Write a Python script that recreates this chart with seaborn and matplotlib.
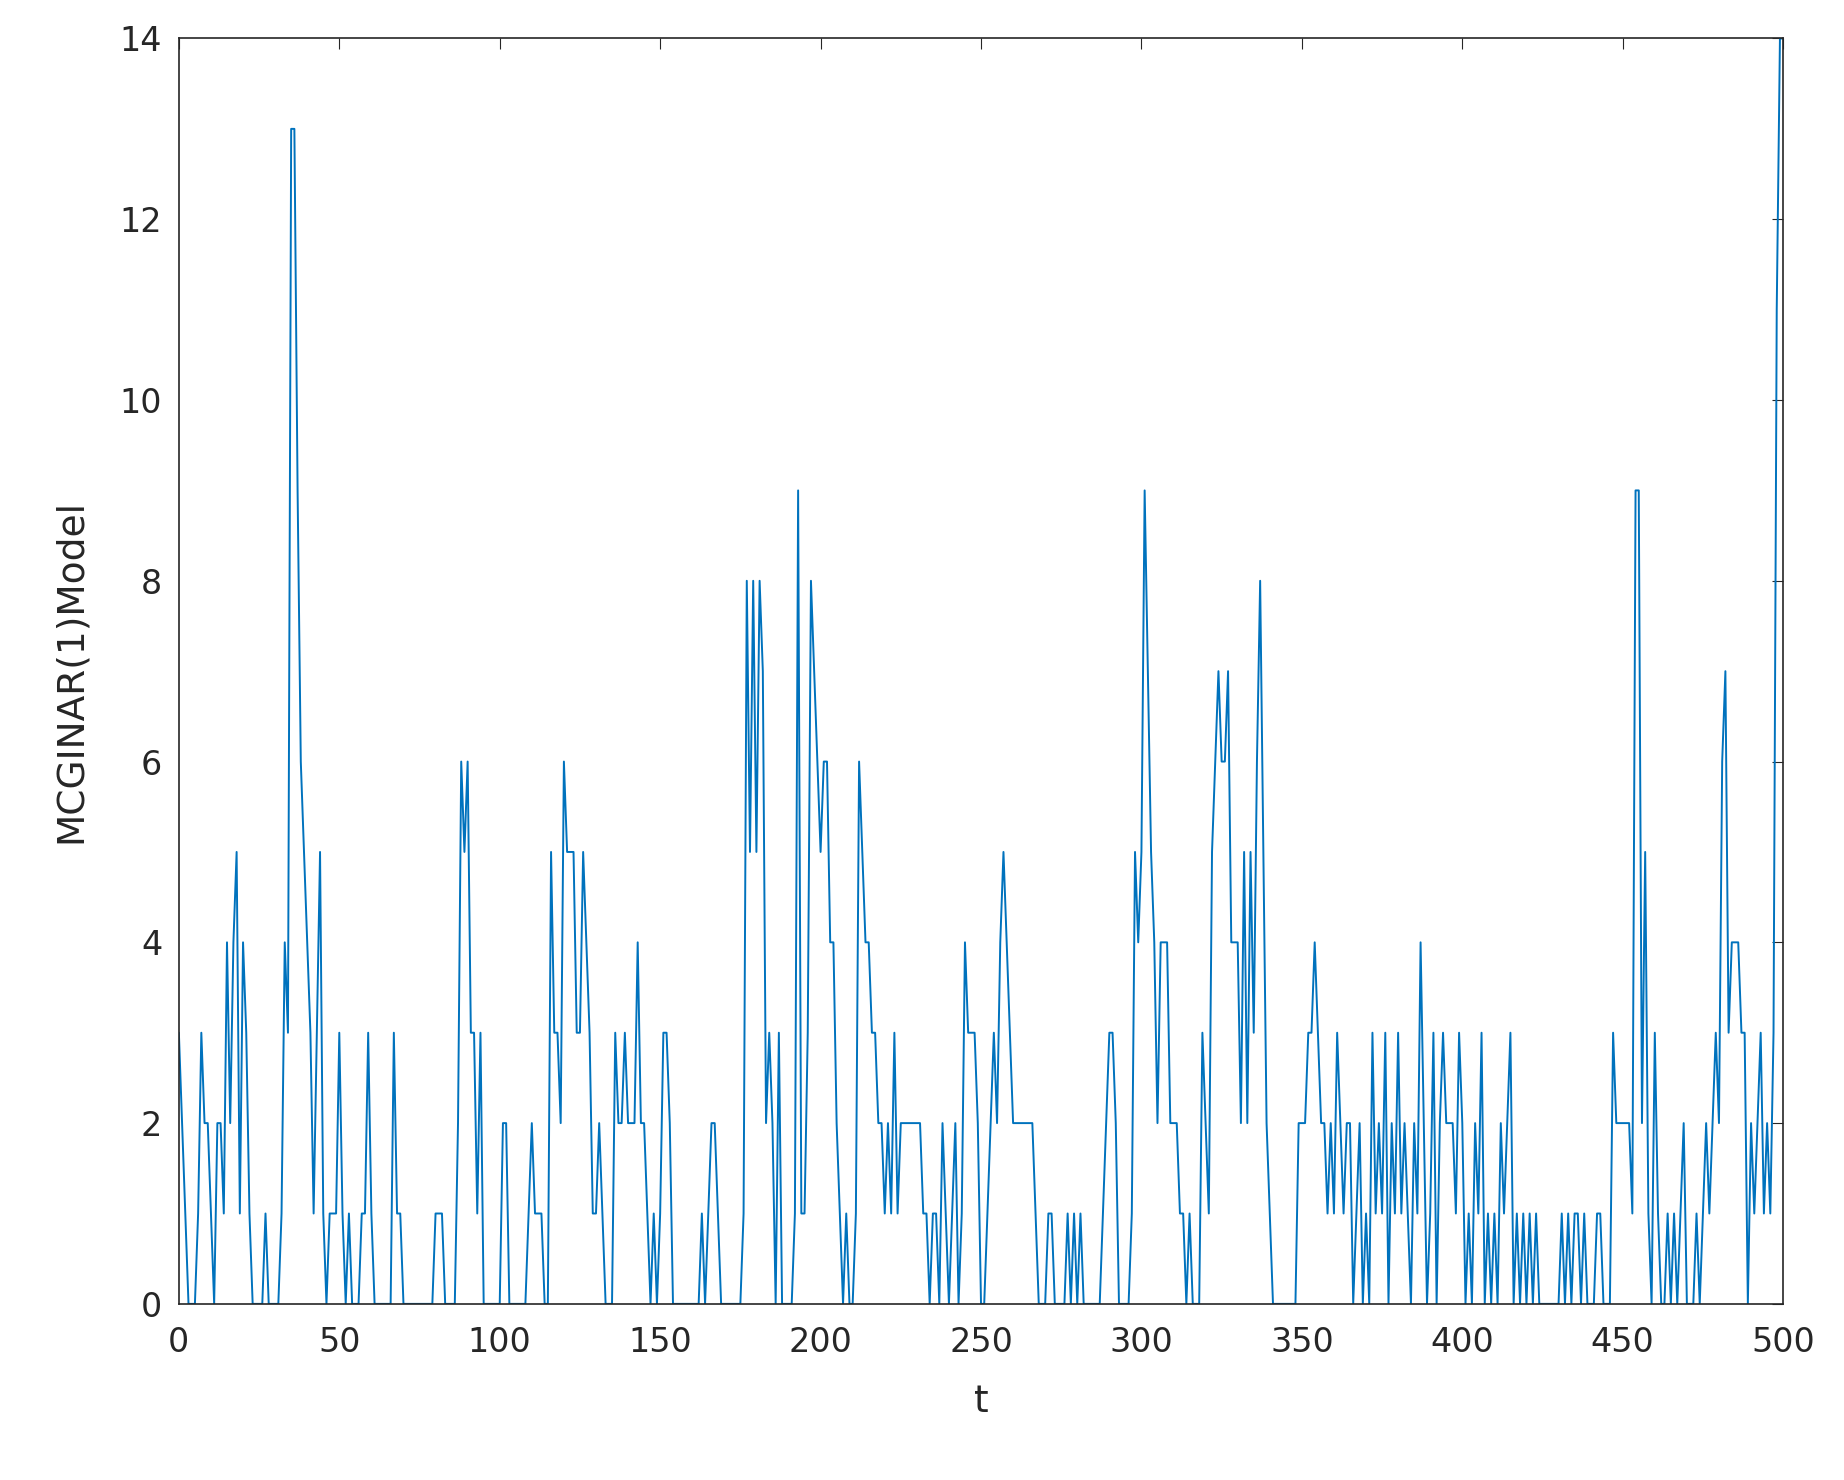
import numpy as np
import pandas as pd
import matplotlib
matplotlib.use("Agg")
import matplotlib.pyplot as plt
import seaborn as sns

# series values, in blocks of ten (t = 0..500)
y = [
    3, 2, 1, 0, 0, 0, 1, 3, 2, 2,
    1, 0, 2, 2, 1, 4, 2, 4, 5, 1,
    4, 3, 1, 0, 0, 0, 0, 1, 0, 0,
    0, 0, 1, 4, 3, 13, 13, 9, 6, 5,
    4, 3, 1, 3, 5, 1, 0, 1, 1, 1,
    3, 1, 0, 1, 0, 0, 0, 1, 1, 3,
    1, 0, 0, 0, 0, 0, 0, 3, 1, 1,
    0, 0, 0, 0, 0, 0, 0, 0, 0, 0,
    1, 1, 1, 0, 0, 0, 0, 2, 6, 5,
    6, 3, 3, 1, 3, 0, 0, 0, 0, 0,
    0, 2, 2, 0, 0, 0, 0, 0, 0, 1,
    2, 1, 1, 1, 0, 0, 5, 3, 3, 2,
    6, 5, 5, 5, 3, 3, 5, 4, 3, 1,
    1, 2, 1, 0, 0, 0, 3, 2, 2, 3,
    2, 2, 2, 4, 2, 2, 1, 0, 1, 0,
    1, 3, 3, 2, 0, 0, 0, 0, 0, 0,
    0, 0, 0, 1, 0, 1, 2, 2, 1, 0,
    0, 0, 0, 0, 0, 0, 1, 8, 5, 8,
    5, 8, 7, 2, 3, 2, 0, 3, 0, 0,
    0, 0, 1, 9, 1, 1, 3, 8, 7, 6,
    5, 6, 6, 4, 4, 2, 1, 0, 1, 0,
    0, 1, 6, 5, 4, 4, 3, 3, 2, 2,
    1, 2, 1, 3, 1, 2, 2, 2, 2, 2,
    2, 2, 1, 1, 0, 1, 1, 0, 2, 1,
    0, 1, 2, 0, 1, 4, 3, 3, 3, 2,
    0, 0, 1, 2, 3, 2, 4, 5, 4, 3,
    2, 2, 2, 2, 2, 2, 2, 1, 0, 0,
    0, 1, 1, 0, 0, 0, 0, 1, 0, 1,
    0, 1, 0, 0, 0, 0, 0, 0, 1, 2,
    3, 3, 2, 0, 0, 0, 0, 1, 5, 4,
    5, 9, 7, 5, 4, 2, 4, 4, 4, 2,
    2, 2, 1, 1, 0, 1, 0, 0, 0, 3,
    2, 1, 5, 6, 7, 6, 6, 7, 4, 4,
    4, 2, 5, 2, 5, 3, 6, 8, 5, 2,
    1, 0, 0, 0, 0, 0, 0, 0, 0, 2,
    2, 2, 3, 3, 4, 3, 2, 2, 1, 2,
    1, 3, 2, 1, 2, 2, 0, 1, 2, 0,
    1, 0, 3, 1, 2, 1, 3, 0, 2, 1,
    3, 1, 2, 1, 0, 2, 1, 4, 2, 0,
    1, 3, 0, 2, 3, 2, 2, 2, 1, 3,
    2, 0, 1, 0, 2, 1, 3, 0, 1, 0,
    1, 0, 2, 1, 2, 3, 0, 1, 0, 1,
    0, 1, 0, 1, 0, 0, 0, 0, 0, 0,
    0, 1, 0, 1, 0, 1, 1, 0, 1, 0,
    0, 0, 1, 1, 0, 0, 0, 3, 2, 2,
    2, 2, 2, 1, 9, 9, 2, 5, 1, 0,
    3, 1, 0, 0, 1, 0, 1, 0, 1, 2,
    0, 0, 0, 1, 0, 1, 2, 1, 2, 3,
    2, 6, 7, 3, 4, 4, 4, 3, 3, 0,
    2, 1, 2, 3, 1, 2, 1, 3, 11, 14, 14,
]
t = np.arange(len(y))
df = pd.DataFrame({"t": t, "y": y})

sns.set_style("white")
plt.rcParams['font.family'] = ['DejaVu Sans']

fig = plt.figure(figsize=(18.44, 14.8), dpi=100)
ax = fig.add_axes([0.097, 0.119, 0.870, 0.855])
sns.lineplot(data=df, x="t", y="y", ax=ax, color="#0072BD", linewidth=1.4)

ax.set_xlim(0, 500)
ax.set_ylim(0, 14)
ax.set_xticks(np.arange(0, 501, 50))
ax.set_yticks(np.arange(0, 15, 2))
ax.tick_params(direction="in", length=8, labelsize=24, colors="#262626", top=True, right=True)
ax.tick_params(axis="x", pad=16)
ax.tick_params(axis="y", pad=12)
for s in ax.spines.values():
    s.set_color("#262626")
    s.set_linewidth(1.2)
ax.set_xlabel("t", fontsize=27, color="#262626", labelpad=18)
ax.set_ylabel("MCGINAR(1)Model", fontsize=27, color="#262626", labelpad=22)

fig.savefig("out.png", dpi=100)
